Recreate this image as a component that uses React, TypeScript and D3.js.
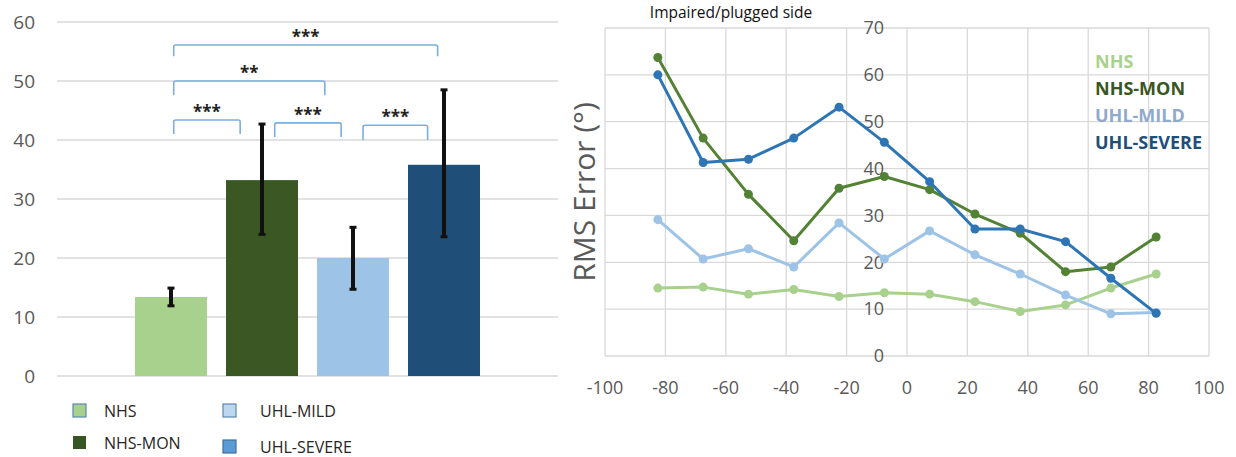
import React from "react";
import * as d3 from "d3";

// ---------- Left chart data ----------
const groups = ["NHS", "NHS-MON", "UHL-MILD", "UHL-SEVERE"];
const barMeans = [13.4, 33.2, 20.0, 35.8];
const errLow = [11.9, 24.0, 14.7, 23.6];
const errHigh = [14.9, 42.7, 25.2, 48.5];
const leftTicks = [0, 10, 20, 30, 40, 50, 60];
const barColors = ["#a9d18e", "#3a5724", "#9dc3e6", "#1f4e79"];
const legendFill = ["#a9d18e", "#375623", "#bdd7ee", "#5b9bd5"];
const legendStroke = ["#5b87b5", "none", "#5b87b5", "#41719c"];

// significance brackets: from/to in group-index units, top and leg-end in data units
const bracketFrom = [0.03, 1.14, 2.11, 0.03, 0.03];
const bracketTo = [0.76, 1.87, 2.82, 1.69, 2.93];
const bracketTop = [43.4, 42.9, 42.5, 50.0, 56.1];
const bracketLeg = [41.0, 40.5, 40.0, 47.6, 54.2];
const bracketLabel = ["***", "***", "***", "**", "***"];

// ---------- Right chart data ----------
const angles = [-82.5, -67.5, -52.5, -37.5, -22.5, -7.5, 7.5, 22.5, 37.5, 52.5, 67.5, 82.5];
const nhs = [14.5, 14.7, 13.2, 14.2, 12.7, 13.5, 13.2, 11.6, 9.5, 10.9, 14.5, 17.5];
const nhsMon = [63.7, 46.5, 34.5, 24.6, 35.8, 38.3, 35.5, 30.3, 26.2, 18.0, 19.0, 25.4];
const uhlMild = [29.1, 20.7, 22.9, 19.0, 28.4, 20.7, 26.7, 21.6, 17.5, 13.0, 9.0, 9.3];
const uhlSevere = [60.0, 41.3, 42.0, 46.5, 53.1, 45.6, 37.2, 27.1, 27.1, 24.4, 16.6, 9.1];
const xTicks = [-100, -80, -60, -40, -20, 0, 20, 40, 60, 80, 100];
const yTicksR = [0, 10, 20, 30, 40, 50, 60, 70];
const lineColors = ["#a9d18e", "#548235", "#9dc3e6", "#2e75b6"];
const legendTextColors = ["#a9d18e", "#375623", "#8faacc", "#1f4e79"];

const FONT = "'Open Sans', 'Noto Sans', sans-serif";
const GRAY = "#595959";
const GRID = "#d9d9d9";

export default function App() {
  // left scales
  const yL = d3.scaleLinear().domain([0, 60]).range([376, 22]);
  const xL = d3.scaleBand<string>().domain(groups).range([135, 480]).paddingInner(0.209).paddingOuter(0);
  const bw = xL.bandwidth();
  const cx = (i: number) => (xL(groups[i]) as number) + bw / 2;
  const xIdx = d3.scaleLinear().domain([0, groups.length - 1]).range([cx(0), cx(groups.length - 1)]);

  // right scales
  const xR = d3.scaleLinear().domain([-100, 100]).range([605, 1209]);
  const yR = d3.scaleLinear().domain([0, 70]).range([356, 28]);
  const series = [nhs, uhlMild, nhsMon, uhlSevere];
  const seriesColor = [lineColors[0], lineColors[2], lineColors[1], lineColors[3]];
  const line = d3
    .line<number>()
    .x((_, i) => xR(angles[i]))
    .y((d) => yR(d));

  const legendPos = [
    [73, 404],
    [223, 404],
    [73, 436],
    [223, 440],
  ];
  const legendOrder = [0, 2, 1, 3];

  return (
    <svg width={1236} height={457} style={{ position: "absolute", left: 0, top: 0, background: "#fff" }} fontFamily={FONT}>
      <rect width={1236} height={457} fill="#fff" />
      {/* ---------- LEFT CHART ---------- */}
      {leftTicks.map((t) => (
        <g key={"lg" + t}>
          <line x1={57} x2={558} y1={yL(t)} y2={yL(t)} stroke={GRID} strokeWidth={1.5} />
          <text x={35} y={yL(t)} dy="0.35em" textAnchor="end" fontSize={19} fill={GRAY}>
            {t}
          </text>
        </g>
      ))}
      {groups.map((g, i) => (
        <rect key={g} x={xL(g)} y={yL(barMeans[i])} width={bw} height={yL(0) - yL(barMeans[i])} fill={barColors[i]} />
      ))}
      {groups.map((g, i) => (
        <g key={"e" + g} stroke="#111">
          <line x1={cx(i)} x2={cx(i)} y1={yL(errHigh[i])} y2={yL(errLow[i])} strokeWidth={4} />
          <line x1={cx(i) - 3.5} x2={cx(i) + 3.5} y1={yL(errHigh[i])} y2={yL(errHigh[i])} strokeWidth={3} />
          <line x1={cx(i) - 3.5} x2={cx(i) + 3.5} y1={yL(errLow[i])} y2={yL(errLow[i])} strokeWidth={3} />
        </g>
      ))}
      {bracketLabel.map((lab, i) => {
        const x1 = xIdx(bracketFrom[i]);
        const x2 = xIdx(bracketTo[i]);
        const yt = yL(bracketTop[i]);
        const yb = yL(bracketLeg[i]);
        return (
          <g key={"b" + i}>
            <path
              d={`M${x1},${yb} L${x1},${yt + 2} Q${x1},${yt} ${x1 + 2},${yt} L${x2 - 2},${yt} Q${x2},${yt} ${x2},${yt + 2} L${x2},${yb}`}
              fill="none"
              stroke="#7cafdd"
              strokeWidth={1.6}
            />
            <text x={(x1 + x2) / 2} y={yt - 2} textAnchor="middle" fontSize={17} fontWeight="bold" fill="#222">
              {lab}
            </text>
          </g>
        );
      })}
      {legendOrder.map((gi, k) => {
        const [lx, ly] = legendPos[k];
        return (
          <g key={"leg" + gi}>
            <rect
              x={lx}
              y={ly}
              width={13}
              height={13}
              fill={legendFill[gi]}
              stroke={legendStroke[gi]}
              strokeWidth={legendStroke[gi] === "none" ? 0 : 1.2}
            />
            <text x={lx + (gi === 0 || gi === 1 ? 31 : 37)} y={ly + 7} dy="0.35em" fontSize={16} fill="#262626">
              {groups[gi]}
            </text>
          </g>
        );
      })}

      {/* ---------- RIGHT CHART ---------- */}
      <text x={731} y={13} dy="0.35em" textAnchor="middle" fontSize={15.5} fill="#111">
        Impaired/plugged side
      </text>
      {xTicks.map((t) => (
        <g key={"rx" + t}>
          <line x1={xR(t)} x2={xR(t)} y1={yR(0)} y2={yR(70)} stroke={GRID} strokeWidth={1.3} />
          <text x={xR(t)} y={388} dy="0.35em" textAnchor="middle" fontSize={18} fill={GRAY}>
            {t}
          </text>
        </g>
      ))}
      {yTicksR.map((t) => (
        <line key={"ry" + t} x1={xR(-100)} x2={xR(100)} y1={yR(t)} y2={yR(t)} stroke={GRID} strokeWidth={1.3} />
      ))}
      {yTicksR.map((t) => (
        <text key={"ryl" + t} x={xR(0) - 23} y={yR(t)} dy="0.35em" textAnchor="end" fontSize={18} fill={GRAY}>
          {t}
        </text>
      ))}
      <text
        transform={`translate(584,${yR(35)}) rotate(-90)`}
        textAnchor="middle"
        dy="0.35em"
        fontSize={30}
        fill={GRAY}
      >
        RMS Error (°)
      </text>
      {series.map((s, si) => (
        <g key={"s" + si}>
          <path d={line(s) as string} fill="none" stroke={seriesColor[si]} strokeWidth={3} strokeLinejoin="round" />
          {s.map((v, i) => (
            <circle key={i} cx={xR(angles[i])} cy={yR(v)} r={4.5} fill={seriesColor[si]} />
          ))}
        </g>
      ))}
      {groups.map((g, i) => (
        <text key={"rl" + g} x={1095} y={62 + i * 27} dy="0.35em" fontSize={18} fontWeight="bold" fill={legendTextColors[i]}>
          {g}
        </text>
      ))}
    </svg>
  );
}
